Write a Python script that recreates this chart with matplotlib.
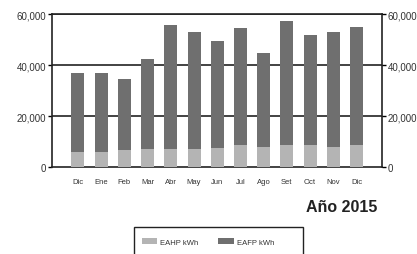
import matplotlib
matplotlib.use("Agg")
import matplotlib.pyplot as plt
from matplotlib.patches import Rectangle
import numpy as np

plt.rcParams['font.family'] = ['Liberation Sans', 'DejaVu Sans']

months = ["Dic", "Ene", "Feb", "Mar", "Abr", "May", "Jun", "Jul", "Ago", "Set", "Oct", "Nov", "Dic"]
total = [36800, 36800, 34500, 42300, 55700, 52800, 49500, 54400, 44700, 57100, 51700, 52800, 54900]
eahp = [6000, 6000, 6500, 7000, 7000, 7000, 7500, 8500, 8000, 8500, 8500, 8000, 8500]
eafp = [t - h for t, h in zip(total, eahp)]
yticks = [0, 20000, 40000, 60000]
ytick_labels = ["0", "20,000", "40,000", "60,000"]

W, H = 417, 255
fig = plt.figure(figsize=(4.17, 2.55), dpi=100)
ax = fig.add_axes([0.1247, 0.341, 0.7913, 0.600])
x = np.arange(len(months))
w = 0.56
ax.bar(x, eahp, width=w, color="#b4b4b4", label="EAHP kWh", zorder=3)
ax.bar(x, eafp, width=w, bottom=eahp, color="#6f6f6f", label="EAFP kWh", zorder=3)

ax.set_xlim(-1.12, 13.1)
ax.set_ylim(0, 60000)
ax.set_yticks(yticks)
ax.set_yticklabels(ytick_labels, fontsize=7, color="#333333")
ax.set_xticks(x)
ax.set_xticklabels(months, fontsize=5.5, color="#333333")
ax.tick_params(axis='x', length=0, pad=8)
ax.tick_params(axis='y', length=3, width=1, direction='out', pad=1)
for v in yticks[1:]:
    ax.axhline(v, color="#222222", lw=1.2, zorder=2)
for s in ax.spines.values():
    s.set_color("#222222")
    s.set_linewidth(1.2)

ax2 = ax.twinx()
ax2.set_ylim(0, 60000)
ax2.set_yticks(yticks)
ax2.set_yticklabels(ytick_labels, fontsize=7, color="#333333")
ax2.tick_params(axis='y', length=3, width=1, direction='out', pad=1)
for s in ax2.spines.values():
    s.set_visible(False)

fig.text(377 / W, 1 - 208 / H, "Año 2015", fontsize=11.5, fontweight='bold', ha='right', va='center', color="#222222")

# legend frame (extends past the bottom edge as in the reference)
fig.patches.append(Rectangle((134 / W, -0.1), (303 - 134) / W, 0.1 + 1 - 228 / H,
                             transform=fig.transFigure, fill=False, edgecolor="#222222", lw=1.0))
h, l = ax.get_legend_handles_labels()
leg = fig.legend(h, l, loc='center left', bbox_to_anchor=(142 / W, 1 - 243 / H),
                 ncol=2, fontsize=5.5, frameon=False, handlelength=2.0, handleheight=0.8,
                 borderaxespad=0, borderpad=0, columnspacing=2.6, handletextpad=0.4)
for t in leg.get_texts():
    t.set_color("#333333")

fig.savefig("out.png", dpi=100)
